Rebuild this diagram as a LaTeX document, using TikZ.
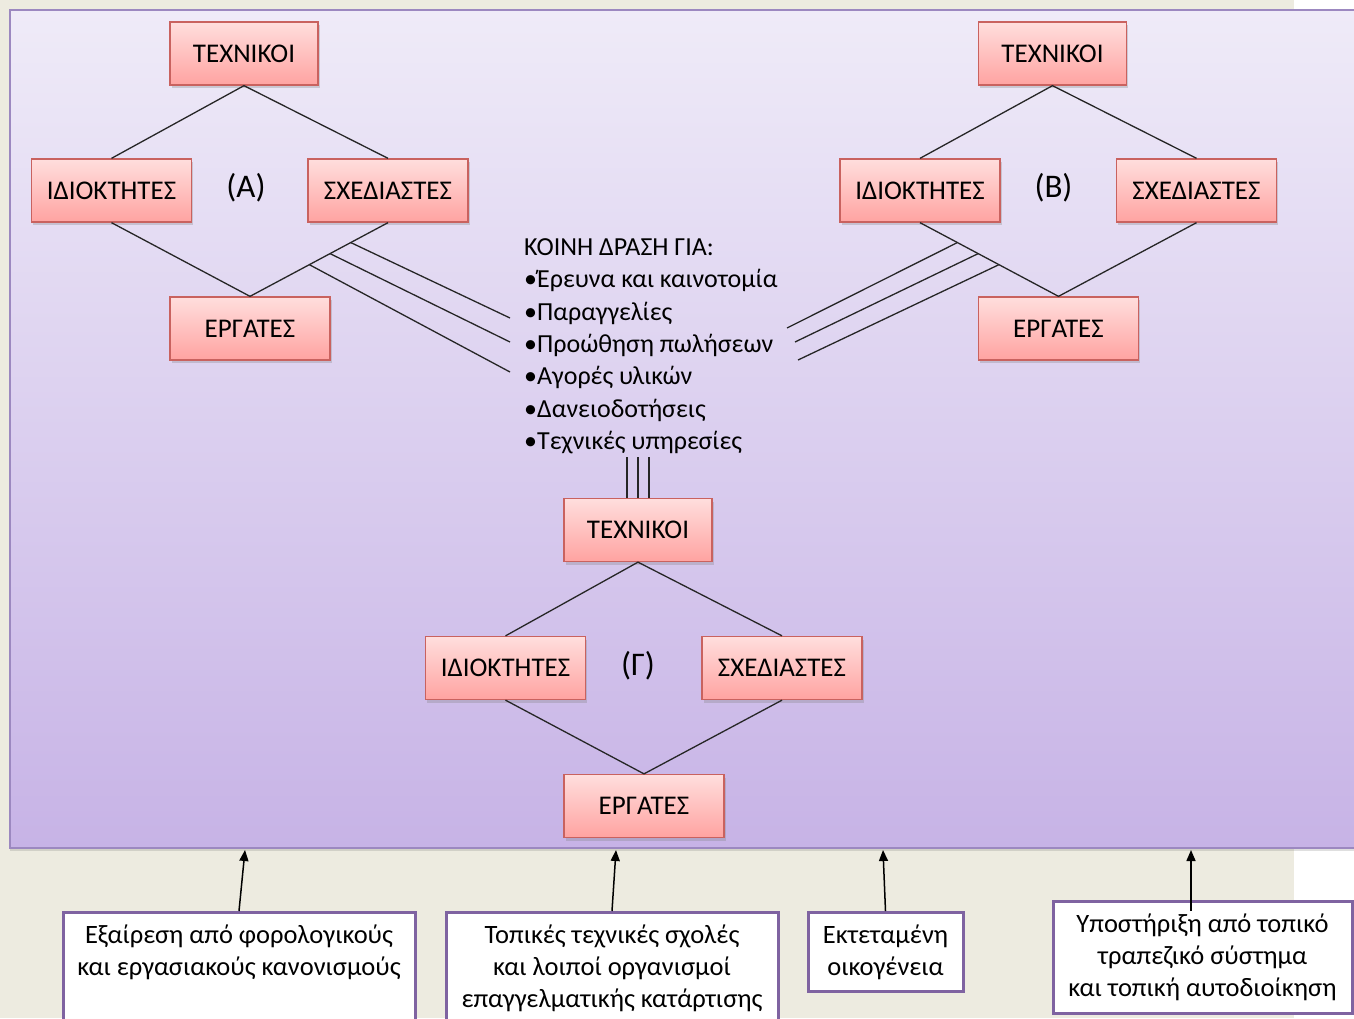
\documentclass[tikz,border=0pt]{standalone}
\usepackage{fontspec}
\setmainfont{Carlito}
\usetikzlibrary{arrows.meta,positioning,calc,shadows}
\definecolor{PageBeige}{HTML}{EDEBE0}
\definecolor{PanelTop}{HTML}{EFEBF8}
\definecolor{PanelBottom}{HTML}{C7B3E6}
\definecolor{PanelEdge}{HTML}{9C88C0}
\definecolor{BoxTop}{HTML}{FFDEDD}
\definecolor{BoxBottom}{HTML}{FFA3A1}
\definecolor{BoxEdge}{HTML}{C9625F}
\definecolor{FootEdge}{HTML}{7F63A1}

\tikzset{
  rolebox/.style={draw=BoxEdge,line width=1.3pt,top color=BoxTop,bottom color=BoxBottom,
    minimum width=160pt,minimum height=63pt,inner sep=0pt,font=\fontsize{27}{30}\selectfont,
    drop shadow={shadow xshift=1.5pt,shadow yshift=-3pt,opacity=0.3}},
  grouptag/.style={font=\fontsize{33}{33}\selectfont},
  footbox/.style={draw=FootEdge,line width=3pt,fill=white,align=center,inner sep=0pt,
    font=\fontsize{26.5}{32}\selectfont},
  foottext/.style={align=center,inner sep=0pt,font=\fontsize{26.5}{32}\selectfont},
  link/.style={line width=1.3pt,black!85},
  feed/.style={line width=1.5pt,black,-{Triangle[length=11pt,width=9pt]}},
}

\begin{document}
\begin{tikzpicture}[x=1pt,y=-1pt]
  \useasboundingbox (0,0) rectangle (1354,1018);
  \clip (0,0) rectangle (1354,1018);
  \fill[white] (0,0) rectangle (1354,1018);
  \fill[PageBeige] (0,0) rectangle (1294,1018);
  \path[draw=PanelEdge,line width=2pt,top color=PanelTop,bottom color=PanelBottom,
    drop shadow={shadow xshift=0pt,shadow yshift=-3pt,opacity=0.25}] (10,10) rectangle (1370,848);

  % group A
  \node[rolebox,minimum width=148pt] (tecA) at (244,53.5) {ΤΕΧΝΙΚΟΙ};
  \node[rolebox] (idA) at ($(tecA)+(-132.5,137)$) {ΙΔΙΟΚΤΗΤΕΣ};
  \node[rolebox] (sxA) at ($(tecA)+(144,137)$) {ΣΧΕΔΙΑΣΤΕΣ};
  \node[rolebox] (erA) at ($(tecA)+(6,275)$) {ΕΡΓΑΤΕΣ};
  \node[grouptag] (tagA) at ($(tecA)+(2,134.5)$) {(Α)};
  \draw[link] (idA.north) -- (tecA.south) -- (sxA.north);
  \draw[link] (idA.south) -- (erA.north) -- (sxA.south);

  % group B
  \node[rolebox,minimum width=148pt] (tecB) at (1052.5,53.5) {ΤΕΧΝΙΚΟΙ};
  \node[rolebox] (idB) at ($(tecB)+(-132.5,137)$) {ΙΔΙΟΚΤΗΤΕΣ};
  \node[rolebox] (sxB) at ($(tecB)+(144,137)$) {ΣΧΕΔΙΑΣΤΕΣ};
  \node[rolebox] (erB) at ($(tecB)+(6,275)$) {ΕΡΓΑΤΕΣ};
  \node[grouptag] (tagB) at ($(tecB)+(1,134.5)$) {(Β)};
  \draw[link] (idB.north) -- (tecB.south) -- (sxB.north);
  \draw[link] (idB.south) -- (erB.north) -- (sxB.south);

  % group C
  \node[rolebox,minimum width=148pt] (tecC) at (638,530) {ΤΕΧΝΙΚΟΙ};
  \node[rolebox] (idC) at ($(tecC)+(-132.5,138)$) {ΙΔΙΟΚΤΗΤΕΣ};
  \node[rolebox] (sxC) at ($(tecC)+(144,138)$) {ΣΧΕΔΙΑΣΤΕΣ};
  \node[rolebox] (erC) at ($(tecC)+(6,276)$) {ΕΡΓΑΤΕΣ};
  \node[grouptag] (tagC) at ($(tecC)+(0,136)$) {(Γ)};
  \draw[link] (idC.north) -- (tecC.south) -- (sxC.north);
  \draw[link] (idC.south) -- (erC.north) -- (sxC.south);

  % shared actions
  \node[anchor=north west,align=left,inner sep=0pt,font=\fontsize{26}{32.3}\selectfont] (koini) at (524,238.5)
    {ΚΟΙΝΗ ΔΡΑΣΗ ΓΙΑ:\\•Έρευνα και καινοτομία\\•Παραγγελίες\\•Προώθηση πωλήσεων\\•Αγορές υλικών\\•Δανειοδοτήσεις\\•Τεχνικές υπηρεσίες};
  \coordinate (la1) at (510,318);
  \coordinate (la2) at (510,342);
  \coordinate (la3) at (510,372);
  \coordinate (lb1) at (787,328);
  \coordinate (lb2) at (795,342);
  \coordinate (lb3) at (798,360);
  \draw[link] ($(sxA.south)!0.27!(erA.north)$) -- (la1);
  \draw[link] ($(sxA.south)!0.42!(erA.north)$) -- (la2);
  \draw[link] ($(sxA.south)!0.57!(erA.north)$) -- (la3);
  \draw[link] ($(idB.south)!0.27!(erB.north)$) -- (lb1);
  \draw[link] ($(idB.south)!0.42!(erB.north)$) -- (lb2);
  \draw[link] ($(idB.south)!0.57!(erB.north)$) -- (lb3);
  \draw[link] ($(tecC.north)+(-11,0)$) -- ++(0,-41);
  \draw[link] (tecC.north) -- ++(0,-41);
  \draw[link] ($(tecC.north)+(11,0)$) -- ++(0,-41);

  % outside support
  \node[footbox,minimum width=352pt,minimum height=140pt,anchor=north] (f1) at (239,911) {};
  \node[foottext,anchor=north] (f1txt) at ($(f1.north)+(0,14)$) {Εξαίρεση από φορολογικούς\\και εργασιακούς κανονισμούς};
  \node[footbox,minimum width=332pt,minimum height=140pt,anchor=north] (f2) at (612,911) {};
  \node[foottext,anchor=north] (f2txt) at ($(f2.north)+(0,14)$) {Τοπικές τεχνικές σχολές\\και λοιποί οργανισμοί\\επαγγελματικής κατάρτισης};
  \node[footbox,minimum width=155pt,minimum height=79pt,anchor=north] (f3) at (885.5,911) {Εκτεταμένη\\οικογένεια};
  \node[footbox,minimum width=299pt,minimum height=112pt,anchor=north] (f4) at (1202.5,900) {Υποστήριξη από τοπικό\\τραπεζικό σύστημα\\και τοπική αυτοδιοίκηση};
  \coordinate (in1) at (245,850);
  \coordinate (in2) at (616,850);
  \coordinate (in3) at (883,850);
  \coordinate (in4) at (1191,850);
  \draw[feed] (f1.north) -- (in1);
  \draw[feed] (f2.north) -- (in2);
  \draw[feed] (f3.north) -- (in3);
  \draw[feed] ($(f4.north -| in4)+(0,11)$) -- (in4);
\end{tikzpicture}
\end{document}
